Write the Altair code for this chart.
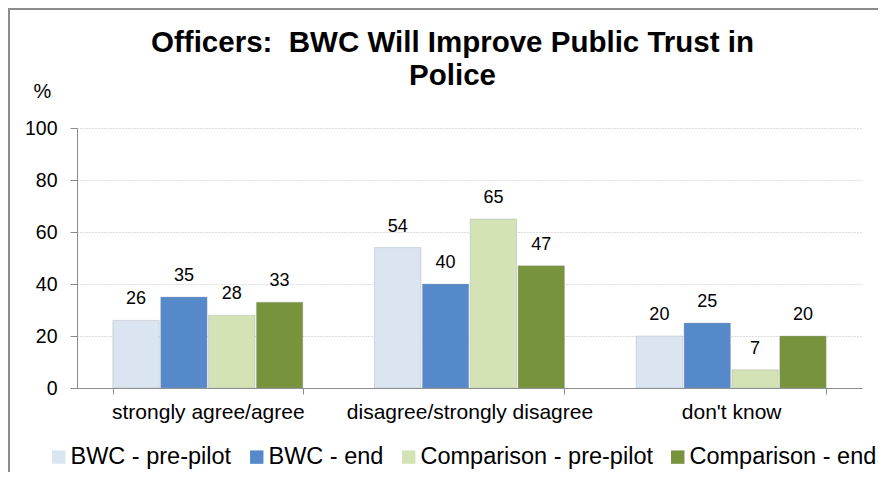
import altair as alt
import pandas as pd

categories = ["strongly agree/agree", "disagree/strongly disagree", "don't know"]
series = ["BWC - pre-pilot", "BWC - end", "Comparison - pre-pilot", "Comparison - end"]
bwc_pre = [26, 54, 20]
bwc_end = [35, 40, 25]
comp_pre = [28, 65, 7]
comp_end = [33, 47, 20]
colors = ["#dbe5f1", "#5589c9", "#d4e3b5", "#77933c"]
y_ticks = [0, 20, 40, 60, 80, 100]

rows = []
for s, vals in zip(series, [bwc_pre, bwc_end, comp_pre, comp_end]):
    for c, v in zip(categories, vals):
        rows.append({"category": c, "series": s, "value": v})
df = pd.DataFrame(rows)

FONT = "Liberation Sans"

base = alt.Chart(df).encode(
    x=alt.X(
        "category:N",
        sort=categories,
        scale=alt.Scale(paddingInner=0.274, paddingOuter=0.137),
        axis=alt.Axis(
            title=None,
            labelAngle=0,
            labelFontSize=21,
            labelColor="#000",
            labelFont=FONT,
            labelLimit=0,
            tickBand="extent",
            tickSize=6,
            tickColor="#8c8c8c",
            domainColor="#8c8c8c",
            labelPadding=7,
            grid=False,
        ),
    ),
    xOffset=alt.XOffset("series:N", sort=series, scale=alt.Scale(paddingInner=0.03)),
    y=alt.Y(
        "value:Q",
        scale=alt.Scale(domain=[0, 100]),
        axis=alt.Axis(
            values=y_ticks,
            title="%",
            titleAngle=0,
            titleX=-35,
            titleY=-31,
            titleAlign="center",
            titleBaseline="alphabetic",
            titleFontSize=20,
            titleFontWeight="normal",
            titleFont=FONT,
            titleColor="#000",
            labelFontSize=19.5,
            labelFont=FONT,
            labelColor="#000",
            labelPadding=13,
            tickSize=7,
            tickColor="#8c8c8c",
            domainColor="#8c8c8c",
            gridColor="#bdbdbd",
            gridDash=[1, 2],
            gridWidth=1,
        ),
    ),
)

bars = base.mark_bar(stroke="#9aa3ad", strokeWidth=0.6, strokeOpacity=0.6).encode(
    color=alt.Color(
        "series:N",
        sort=series,
        scale=alt.Scale(domain=series, range=colors),
        legend=alt.Legend(
            title=None,
            orient="none",
            legendX=-30,
            legendY=317,
            direction="horizontal",
            symbolType="square",
            symbolSize=180,
            symbolStrokeWidth=0,
            labelFontSize=23.5,
            labelFont=FONT,
            labelColor="#000",
            labelLimit=0,
            labelOffset=0,
            columnPadding=13,
        ),
    )
)

labels = base.mark_text(dy=-16, baseline="alphabetic", fontSize=18, font=FONT, color="#000").encode(
    text="value:Q"
)

border = alt.Chart(pd.DataFrame({"a": [0]})).mark_rect(
    fillOpacity=0, stroke="#8c8c8c", strokeWidth=2
).encode(
    x=alt.value(-68), x2=alt.value(900), y=alt.value(-119), y2=alt.value(500)
)

chart = alt.layer(border, bars, labels).properties(
    width=785,
    height=260,
    autosize=alt.AutoSizeParams(type="none"),
    padding={"left": 69, "top": 120, "right": 16, "bottom": 84},
    title=alt.TitleParams(
        text=["Officers:\u00a0 BWC Will Improve Public Trust in", "Police"],
        fontSize=29.5,
        fontWeight="bold",
        font=FONT,
        color="#000",
        anchor="middle",
        frame="group",
        dx=-17,
        offset=-83,
        lineHeight=33,
    ),
).configure_view(stroke=None)

chart.save("out.html", embed_options={"renderer": "svg", "actions": False})
